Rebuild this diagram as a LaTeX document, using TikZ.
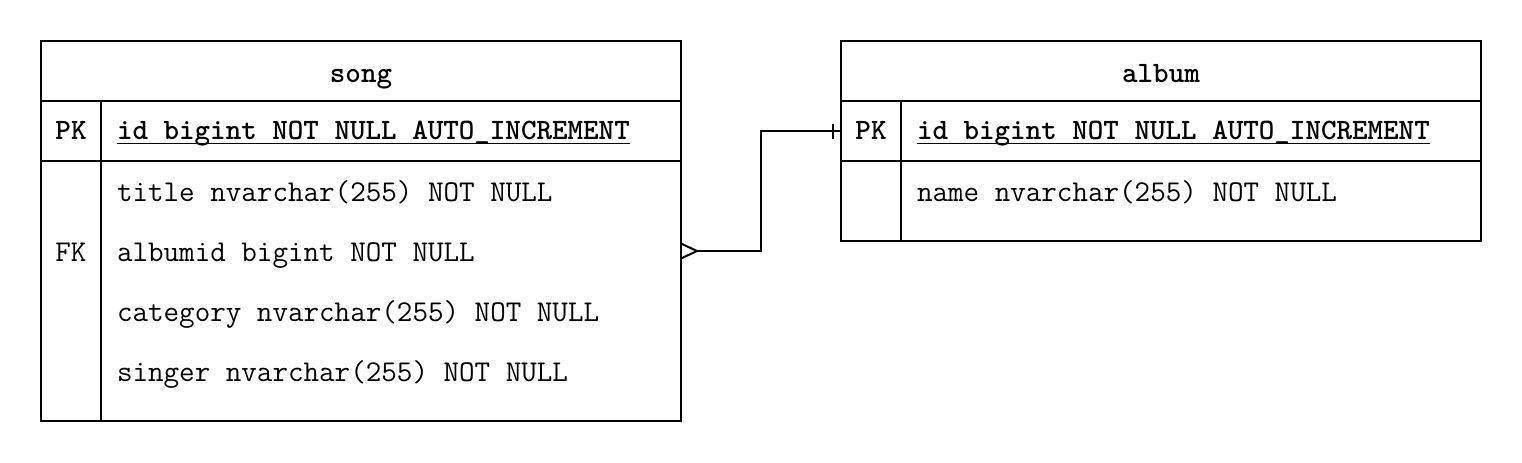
\documentclass[tikz,border=0pt]{standalone}
\usepackage{fontspec}
\usepackage{tikz}
\usetikzlibrary{positioning}
\newcommand{\keyline}[1]{\setbox0\hbox{#1}\setbox2\hbox{\_}\rlap{\rule[-\dp2]{\wd0}{0.5pt}}\box0}

\begin{document}
\begin{tikzpicture}[
  font=\ttfamily\fontsize{15.1}{17}\selectfont,
  tbl/.style={draw, line width=1pt, inner sep=0pt, outer sep=0pt},
  hdr/.style={tbl, minimum width=320pt, minimum height=30pt},
  keycol/.style={tbl, minimum width=30pt},
  fieldcol/.style={tbl, minimum width=290pt},
  lbl/.style={inner sep=0pt, outer sep=0pt, text height=10pt, text depth=0pt},
  bold/.style={lbl, font=\ttfamily\bfseries\fontsize{14.8}{17}\selectfont},
  conn/.style={line width=1pt}
]
\useasboundingbox (0,0) rectangle (761pt,-231pt);

% song table
\node[hdr, anchor=north west] (song) at (20.5pt,-20.5pt) {};
\node[keycol, minimum height=30pt, below=0pt of song.south west, anchor=north west] (songpkkey) {};
\node[fieldcol, minimum height=30pt, right=0pt of songpkkey.north east, anchor=north west] (songpk) {};
\node[keycol, minimum height=130pt, below=0pt of songpkkey.south west, anchor=north west] (songfkkey) {};
\node[fieldcol, minimum height=130pt, right=0pt of songfkkey.north east, anchor=north west] (songbody) {};

\node[bold, anchor=base] (songname) at ([yshift=-20.5pt]song.north) {song};
\node[bold, anchor=base] (songpklbl) at ([yshift=-19pt]songpkkey.north) {PK};
\node[bold, anchor=base west] (songid) at ([xshift=8pt,yshift=-19pt]songpk.north west) {\keyline{id bigint NOT NULL AUTO\_INCREMENT}};
\node[lbl, anchor=base west] (title) at ([xshift=8pt,yshift=-20pt]songbody.north west) {title nvarchar(255) NOT NULL};
\node[lbl, below=30pt of title.base west, anchor=base west] (albumid) {albumid bigint NOT NULL};
\node[lbl, below=30pt of albumid.base west, anchor=base west] (category) {category nvarchar(255) NOT NULL};
\node[lbl, below=30pt of category.base west, anchor=base west] (singer) {singer nvarchar(255) NOT NULL};
\node[lbl, anchor=base] (fk) at (songfkkey.north |- albumid.base) {FK};

% album table
\node[hdr, anchor=north west] (album) at (420.5pt,-20.5pt) {};
\node[keycol, minimum height=30pt, below=0pt of album.south west, anchor=north west] (albumpkkey) {};
\node[fieldcol, minimum height=30pt, right=0pt of albumpkkey.north east, anchor=north west] (albumpk) {};
\node[keycol, minimum height=40pt, below=0pt of albumpkkey.south west, anchor=north west] (albumkey) {};
\node[fieldcol, minimum height=40pt, right=0pt of albumkey.north east, anchor=north west] (albumbody) {};

\node[bold, anchor=base] (albumname) at ([yshift=-20.5pt]album.north) {album};
\node[bold, anchor=base] (albumpklbl) at ([yshift=-19pt]albumpkkey.north) {PK};
\node[bold, anchor=base west] (albumid2) at ([xshift=8pt,yshift=-19pt]albumpk.north west) {\keyline{id bigint NOT NULL AUTO\_INCREMENT}};
\node[lbl, anchor=base west] (name) at ([xshift=8pt,yshift=-20pt]albumbody.north west) {name nvarchar(255) NOT NULL};

% relation: many songs -- one album
\coordinate (many) at (songbody.east |- albumid);
\draw[conn] ([xshift=8pt]many) -- ++(32pt,0) |- (albumpkkey.west);
\draw[conn] ([yshift=3.75pt]many) -- ([xshift=8pt]many) -- ([yshift=-3.75pt]many);
\draw[conn] ([xshift=-4pt,yshift=3.75pt]albumpkkey.west) -- ([xshift=-4pt,yshift=-3.75pt]albumpkkey.west);
\end{tikzpicture}
\end{document}
